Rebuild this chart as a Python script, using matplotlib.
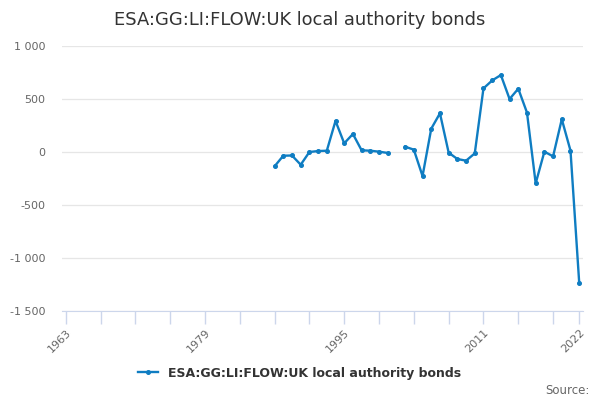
import numpy as np
import matplotlib
matplotlib.use('Agg')
import matplotlib.pyplot as plt

title = 'ESA:GG:LI:FLOW:UK local authority bonds'
years = list(range(1987, 2023))
values = [-135, -35, -33, -120, 0, 9, 12, 293, 82, 170, 16, 12, 3, -9,
          np.nan, 50, 22, -227, 220, 365, -6, -66, -82, -13,
          600, 675, 726, 500, 597, 372, -296, 3, -41, 309, 13, -1232]
tick_years = list(range(1963, 2020, 4)) + [2022]
labelled = [1963, 1979, 1995, 2011, 2022]
y_ticks = [-1500, -1000, -500, 0, 500, 1000]

line_col = '#0f7dc2'

fig = plt.figure(figsize=(6, 4), dpi=100)
ax = fig.add_axes([0.103, 0.2225, 0.869, 0.6625])

ax.plot(years, values, color=line_col, lw=1.7, marker='o', ms=2.6,
        label=title, zorder=3)

ax.set_xlim(1962.55, 2022.46)
ax.set_ylim(-1500, 1000)

ax.set_yticks(y_ticks)
ax.set_yticklabels([f'{v:,}'.replace(',', ' ') for v in y_ticks])
ax.grid(axis='y', color='#e6e6e6', lw=0.9)
ax.set_axisbelow(True)

ax.set_xticks(tick_years)
ax.set_xticklabels([str(y) if y in labelled else '' for y in tick_years],
                   rotation=45, ha='right', va='top', rotation_mode='anchor')

for s in ['top', 'right', 'left']:
    ax.spines[s].set_visible(False)
ax.spines['bottom'].set_color('#ccd6eb')
ax.tick_params(axis='x', colors='#ccd6eb', length=9, width=1, labelcolor='#666666',
               labelsize=8, pad=3)
ax.tick_params(axis='y', length=0, labelcolor='#666666', labelsize=8, pad=12)

fig.text(0.5, 0.95, title, ha='center', va='center', fontsize=12.9, color='#333333')

leg = fig.legend(loc='center', bbox_to_anchor=(0.5, 0.067), frameon=False,
                 handlelength=1.6, fontsize=9)
for t in leg.get_texts():
    t.set_fontweight('bold')
    t.set_color('#333333')

fig.text(0.982, 0.025, 'Source:', ha='right', va='center', fontsize=8.5, color='#666666')

fig.savefig('out.png', dpi=100, facecolor='white')
